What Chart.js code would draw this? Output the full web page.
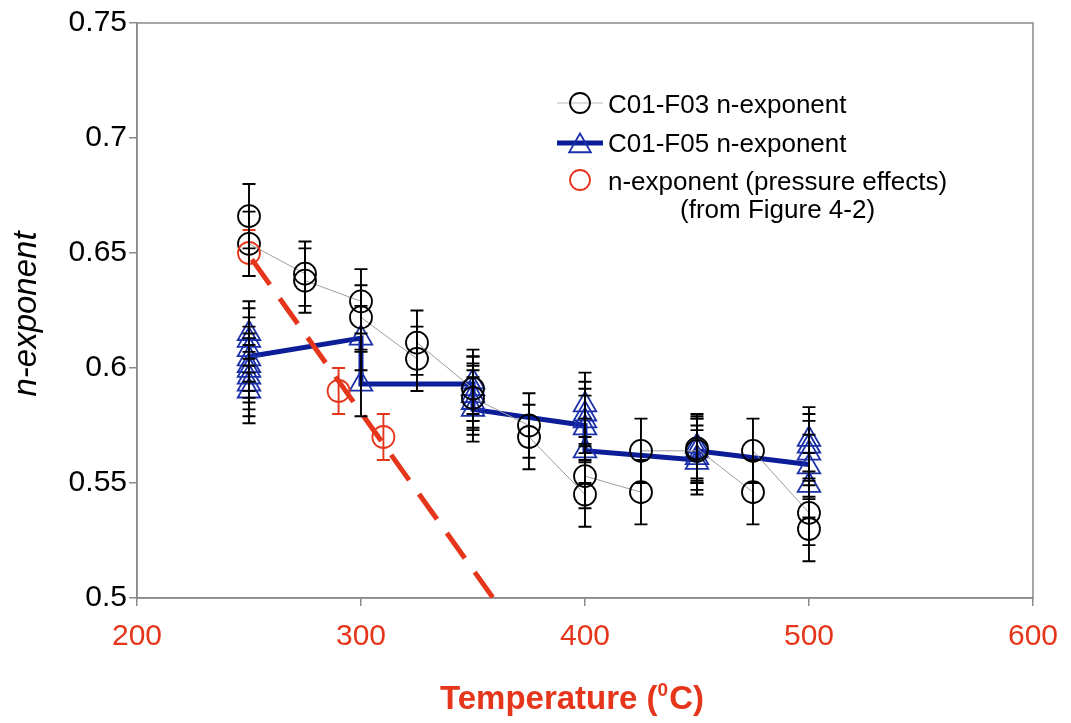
<!DOCTYPE html>
<html>
<head>
<meta charset="utf-8">
<script src="https://cdn.jsdelivr.net/npm/chart.js@4.4.1/dist/chart.umd.min.js"></script>
<style>
  html, body { margin: 0; padding: 0; background: #fff; }
  #wrap { width: 1071px; height: 723px; position: relative; }
</style>
</head>
<body>
<div id="wrap"><canvas id="c" width="1071" height="723"></canvas></div>
<script>
const FONT = "'Liberation Sans', Arial, Helvetica, sans-serif";
const RED = '#E5361C';
const NAVY = '#0B1E98';
const TRI_BLUE = '#1B2FA8';

// Axis ticks
const xTicks = [200, 300, 400, 500, 600];
const yTicks = [0.5, 0.55, 0.6, 0.65, 0.7, 0.75];

// C01-F03: two tests per temperature, joined in test order
const f03Temp = [250, 250, 275, 275, 300, 300, 325, 325, 350, 350, 375, 375,
                 400, 400, 425, 425, 450, 450, 475, 475, 500, 500];
const f03N    = [0.666, 0.654, 0.641, 0.638, 0.629, 0.622, 0.604, 0.611, 0.591, 0.587, 0.575, 0.570,
                 0.545, 0.553, 0.546, 0.564, 0.564, 0.565, 0.546, 0.564, 0.537, 0.530];
const f03Err  = [0.014, 0.014, 0.014, 0.014, 0.014, 0.014, 0.014, 0.014, 0.014, 0.014, 0.014, 0.014,
                 0.014, 0.014, 0.014, 0.014, 0.014, 0.014, 0.014, 0.014, 0.014, 0.014];

// C01-F05: individual tests
const f05Temp = [250, 250, 250, 250, 250, 250, 250, 250, 250,
                 300, 300,
                 350, 350, 350, 350, 350,
                 400, 400, 400, 400, 400,
                 450, 450, 450, 450,
                 500, 500, 500, 500, 500];
const f05N    = [0.615, 0.612, 0.608, 0.604, 0.601, 0.599, 0.596, 0.593, 0.590,
                 0.613, 0.593,
                 0.594, 0.591, 0.588, 0.585, 0.582,
                 0.584, 0.580, 0.577, 0.574, 0.564,
                 0.566, 0.564, 0.561, 0.559,
                 0.569, 0.566, 0.563, 0.557, 0.549];
const f05Err  = [0.014, 0.014, 0.014, 0.014, 0.014, 0.014, 0.014, 0.014, 0.014,
                 0.014, 0.014,
                 0.014, 0.014, 0.014, 0.014, 0.014,
                 0.014, 0.014, 0.014, 0.014, 0.014,
                 0.014, 0.014, 0.014, 0.014,
                 0.014, 0.014, 0.014, 0.014, 0.014];

// C01-F05: connecting line
const f05LineTemp = [250, 300, 300, 350, 350, 400, 400, 450, 450, 500];
const f05LineN    = [0.605, 0.613, 0.593, 0.593, 0.582, 0.575, 0.564, 0.560, 0.564, 0.558];

// n-exponent from pressure effects
const presTemp = [250, 290, 310];
const presN    = [0.650, 0.590, 0.570];
const presErr  = [0.010, 0.010, 0.010];

// Trend of the pressure-effect values
const trendTemp = [250, 359];
const trendN    = [0.649, 0.500];

const pts = (xs, ys) => xs.map((x, i) => ({ x, y: ys[i] }));

// Plot frame on all four sides
const framePlugin = {
  id: 'frame',
  beforeDatasetsDraw(chart) {
    const { ctx, chartArea: a } = chart;
    ctx.save();
    ctx.strokeStyle = '#8a8a8a';
    ctx.lineWidth = 1.5;
    ctx.strokeRect(a.left, a.top, a.right - a.left, a.bottom - a.top);
    ctx.restore();
  }
};

// Vertical error bars with caps
const errorBarPlugin = {
  id: 'errorBars',
  afterDatasetsDraw(chart) {
    const { ctx, chartArea: a } = chart;
    const ys = chart.scales.y;
    ctx.save();
    ctx.beginPath();
    ctx.rect(a.left, a.top, a.right - a.left, a.bottom - a.top);
    ctx.clip();
    chart.data.datasets.forEach((ds, di) => {
      if (!ds.errorBars) return;
      const meta = chart.getDatasetMeta(di);
      ctx.strokeStyle = ds.errorColor;
      ctx.lineWidth = 1.9;
      meta.data.forEach((el, i) => {
        const v = ds.data[i].y, e = ds.errorBars[i];
        const x = el.x;
        const yt = ys.getPixelForValue(v + e);
        const yb = ys.getPixelForValue(v - e);
        ctx.beginPath();
        ctx.moveTo(x, yt); ctx.lineTo(x, yb);
        ctx.moveTo(x - 6.5, yt); ctx.lineTo(x + 6.5, yt);
        ctx.moveTo(x - 6.5, yb); ctx.lineTo(x + 6.5, yb);
        ctx.stroke();
      });
    });
    ctx.restore();
  }
};

// Axis titles and the legend inside the plot
const labelsPlugin = {
  id: 'labels',
  afterDraw(chart) {
    const ctx = chart.ctx;
    ctx.save();

    // y title
    ctx.fillStyle = '#000';
    ctx.font = `italic 33px ${FONT}`;
    ctx.textAlign = 'center';
    ctx.textBaseline = 'middle';
    ctx.translate(27, 314);
    ctx.rotate(-Math.PI / 2);
    ctx.fillText('n-exponent', 0, 0);
    ctx.setTransform(1, 0, 0, 1, 0, 0);

    // x title with superscript
    ctx.fillStyle = RED;
    ctx.textAlign = 'left';
    ctx.textBaseline = 'alphabetic';
    const big = `bold 33px ${FONT}`, small = `bold 19px ${FONT}`;
    const pA = 'Temperature (', pS = '0', pB = 'C)';
    ctx.font = big; const wA = ctx.measureText(pA).width, wB = ctx.measureText(pB).width;
    ctx.font = small; const wS = ctx.measureText(pS).width + 1;
    const x0 = 572 - (wA + wS + wB) / 2, base = 709;
    ctx.font = big; ctx.fillText(pA, x0, base);
    ctx.font = small; ctx.fillText(pS, x0 + wA, base - 13);
    ctx.font = big; ctx.fillText(pB, x0 + wA + wS, base);

    // legend
    const ds = chart.data.datasets;
    const mx = 580, tx = 608;
    ctx.font = `26px ${FONT}`;
    ctx.fillStyle = '#000';

    // row 1: F03
    ctx.strokeStyle = '#b8b8b8'; ctx.lineWidth = 1.2;
    ctx.beginPath(); ctx.moveTo(557, 103); ctx.lineTo(603, 103); ctx.stroke();
    ctx.strokeStyle = '#000'; ctx.lineWidth = 1.8;
    ctx.beginPath(); ctx.arc(mx, 103, 10, 0, Math.PI * 2); ctx.stroke();
    ctx.fillText(ds[1].label, tx, 113);

    // row 2: F05
    ctx.strokeStyle = NAVY; ctx.lineWidth = 5;
    ctx.beginPath(); ctx.moveTo(557, 143); ctx.lineTo(603, 143); ctx.stroke();
    ctx.strokeStyle = TRI_BLUE; ctx.lineWidth = 1.8;
    const r = 12.5, cy = 146;
    ctx.beginPath();
    ctx.moveTo(mx, cy - r);
    ctx.lineTo(mx + Math.sin(Math.PI * 2 / 3) * r, cy - Math.cos(Math.PI * 2 / 3) * r);
    ctx.lineTo(mx - Math.sin(Math.PI * 2 / 3) * r, cy - Math.cos(Math.PI * 2 / 3) * r);
    ctx.closePath(); ctx.stroke();
    ctx.fillText(ds[3].label, tx, 152);

    // row 3: pressure effects (two lines)
    ctx.strokeStyle = RED; ctx.lineWidth = 1.8;
    ctx.beginPath(); ctx.arc(mx, 180, 10, 0, Math.PI * 2); ctx.stroke();
    const lines = ds[0].label;
    const w0 = ctx.measureText(lines[0]).width;
    ctx.fillText(lines[0], tx, 190);
    ctx.textAlign = 'center';
    ctx.fillText(lines[1], tx + w0 / 2, 218);

    ctx.restore();
  }
};

const tickFont = { family: FONT, size: 30 };

new Chart(document.getElementById('c'), {
  type: 'scatter',
  data: {
    datasets: [
      {
        label: ['n-exponent (pressure effects)', '(from Figure 4-2)'],
        data: pts(presTemp, presN),
        errorBars: presErr, errorColor: RED,
        showLine: false,
        pointStyle: 'circle', pointRadius: 11, pointBorderWidth: 1.8,
        pointBorderColor: RED, pointBackgroundColor: 'rgba(0,0,0,0)',
        order: 0
      },
      {
        label: 'C01-F03 n-exponent',
        data: pts(f03Temp, f03N),
        errorBars: f03Err, errorColor: '#000',
        showLine: true, borderColor: '#9c9c9c', borderWidth: 1,
        pointStyle: 'circle', pointRadius: 11, pointBorderWidth: 1.8,
        pointBorderColor: '#000', pointBackgroundColor: 'rgba(0,0,0,0)',
        order: 1
      },
      {
        label: 'pressure trend',
        data: pts(trendTemp, trendN),
        showLine: true, borderColor: RED, borderWidth: 5,
        borderDash: [31, 17], borderDashOffset: 43, borderCapStyle: 'butt',
        pointRadius: 0,
        order: 2
      },
      {
        label: 'C01-F05 n-exponent',
        data: pts(f05Temp, f05N),
        errorBars: f05Err, errorColor: '#000',
        showLine: false,
        pointStyle: 'triangle', pointRadius: 13, pointBorderWidth: 1.8,
        pointBorderColor: TRI_BLUE, pointBackgroundColor: 'rgba(0,0,0,0)',
        order: 3
      },
      {
        label: 'C01-F05 line',
        data: pts(f05LineTemp, f05LineN),
        showLine: true, borderColor: NAVY, borderWidth: 5,
        borderJoinStyle: 'miter',
        pointRadius: 0,
        order: 4
      }
    ]
  },
  options: {
    responsive: false,
    animation: false,
    layout: { padding: { top: 23, right: 38, left: 0, bottom: 0 } },
    plugins: { legend: { display: false }, tooltip: { enabled: false } },
    scales: {
      x: {
        type: 'linear', min: 200, max: 600,
        afterBuildTicks: s => { s.ticks = xTicks.map(v => ({ value: v })); },
        afterFit: s => { s.height = 125; },
        ticks: { color: RED, font: tickFont, padding: 13, maxRotation: 0, autoSkip: false },
        grid: { drawOnChartArea: false, drawTicks: true, tickLength: 8, color: '#8a8a8a', lineWidth: 1.5 },
        border: { display: true, color: '#8a8a8a', width: 1.5 }
      },
      y: {
        type: 'linear', min: 0.5, max: 0.75,
        afterBuildTicks: s => { s.ticks = yTicks.map(v => ({ value: v })); },
        afterFit: s => { s.width = 137; },
        ticks: { color: '#000', font: tickFont, padding: 2, autoSkip: false,
                 callback: v => String(Math.round(v * 100) / 100) },
        grid: { drawOnChartArea: false, drawTicks: true, tickLength: 8, color: '#8a8a8a', lineWidth: 1.5 },
        border: { display: true, color: '#8a8a8a', width: 1.5 }
      }
    }
  },
  plugins: [framePlugin, errorBarPlugin, labelsPlugin]
});
</script>
</body>
</html>
